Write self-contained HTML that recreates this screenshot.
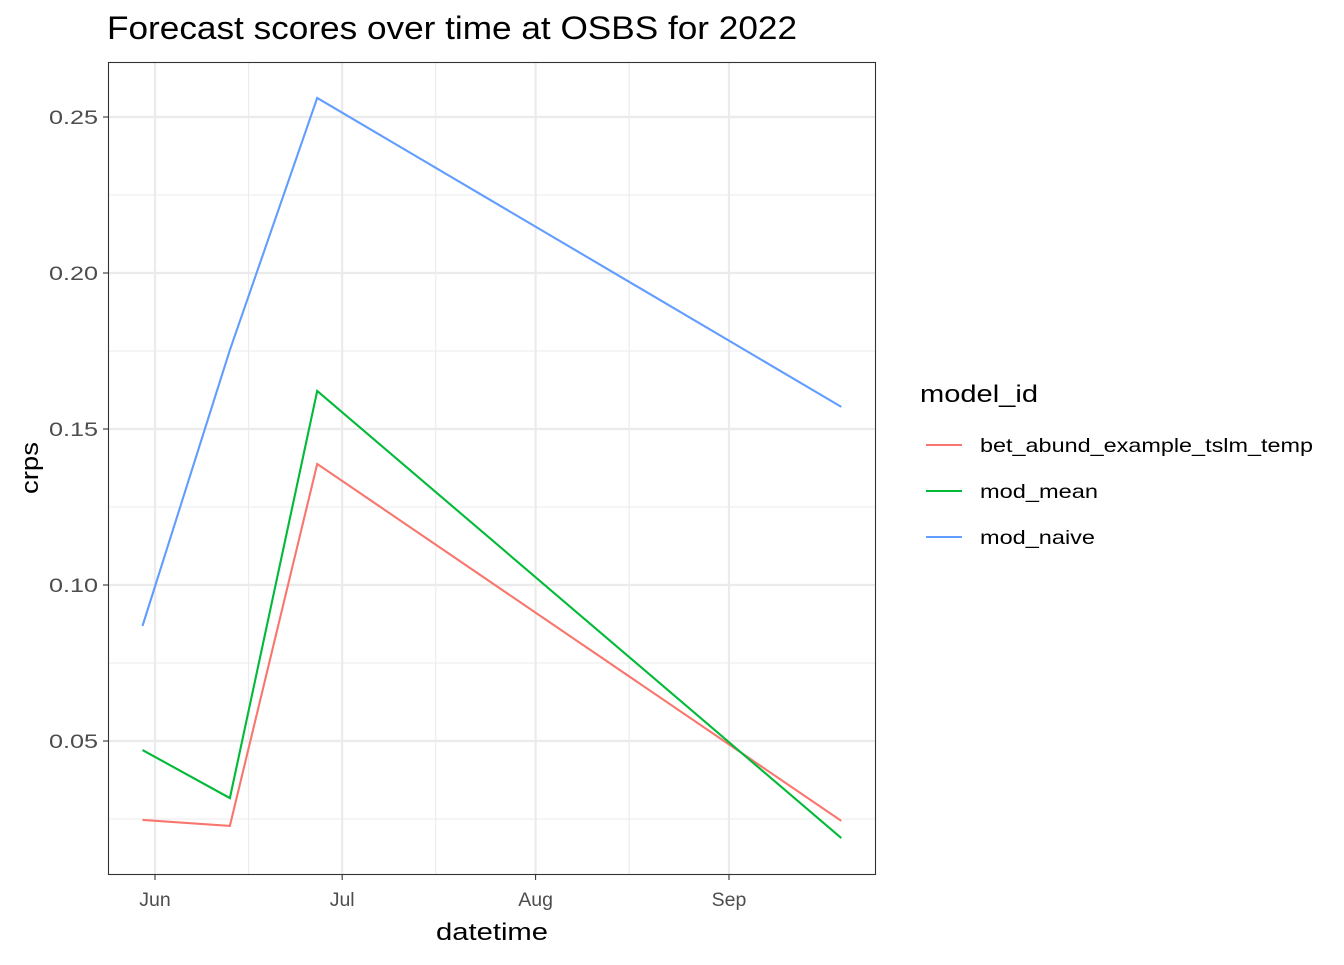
<!DOCTYPE html>
<html><head><meta charset="utf-8"><style>
body{margin:0;background:#fff}
text{font-family:"Liberation Sans",Arial,sans-serif}
</style></head><body>
<svg id="chart" width="1344" height="960" xmlns="http://www.w3.org/2000/svg">
<rect width="1344" height="960" fill="#fff"/>
<text x="107" y="39" font-size="32" textLength="690" lengthAdjust="spacingAndGlyphs" fill="#000">Forecast scores over time at OSBS for 2022</text>
<g id="grid"></g>
<g id="series"></g>
<rect x="108.5" y="62.5" width="767" height="812" fill="none" stroke="#333" stroke-width="1.1"/>
<g id="axes"></g>
<text x="492" y="940" font-size="24" text-anchor="middle" textLength="112" lengthAdjust="spacingAndGlyphs">datetime</text>
<text transform="translate(38,468) rotate(-90)" font-size="24" text-anchor="middle" textLength="52" lengthAdjust="spacingAndGlyphs">crps</text>
<g>
<text x="920" y="402" font-size="24" textLength="118" lengthAdjust="spacingAndGlyphs">model_id</text>
<g id="legend"></g>
</g>
</svg>
<script>
const seriesNames=["bet_abund_example_tslm_temp","mod_mean","mod_naive"];
const colors=["#F8766D","#00BA38","#619CFF"];
const dates=["2022-05-30","2022-06-13","2022-06-27","2022-09-19"];
const betVals=[0.0247,0.0228,0.1388,0.0244];
const meanVals=[0.0471,0.0317,0.1622,0.0189];
const naiveVals=[0.0869,0.1753,0.2561,0.1571];
const yTicks=[0.05,0.10,0.15,0.20,0.25];
const yMinor=[0.025,0.075,0.125,0.175,0.225];
const xTicks=["2022-06-01","2022-07-01","2022-08-01","2022-09-01"];
const xTickLabels=["Jun","Jul","Aug","Sep"];
const xMinor=["2022-06-16","2022-07-16","2022-08-16"];
const legendWidths=[333,118,115];

const NS="http://www.w3.org/2000/svg";
const day=s=>Date.UTC(+s.slice(0,4),+s.slice(5,7)-1,+s.slice(8,10))/86400000;
const d0=day("2022-06-01");
const xs=s=>155+(day(s)-d0)*6.239;
const ys=v=>741-(v-0.05)*3120;
function mk(tag,attrs,parent){const e=document.createElementNS(NS,tag);for(const k in attrs)e.setAttribute(k,attrs[k]);parent.appendChild(e);return e;}
const grid=document.getElementById('grid'),axes=document.getElementById('axes'),ser=document.getElementById('series'),leg=document.getElementById('legend');
yMinor.forEach(v=>{const l=mk('line',{x1:108.5,x2:875.5,y1:ys(v),y2:ys(v),stroke:'#ebebeb','stroke-width':1.1},grid);

});
xMinor.forEach(d=>{const l=mk('line',{x1:xs(d),x2:xs(d),y1:62.5,y2:874.5,stroke:'#ebebeb','stroke-width':1.1},grid);

});
yTicks.forEach(v=>{const y=ys(v);
const l=mk('line',{x1:108.5,x2:875.5,y1:y,y2:y,stroke:'#ebebeb','stroke-width':2.2},grid);


mk('line',{x1:103,x2:108.5,y1:y,y2:y,stroke:'#333','stroke-width':1.1},axes);
const t=mk('text',{x:98,y:y+7,'font-size':19.5,fill:'#4d4d4d','text-anchor':'end',textLength:49,lengthAdjust:'spacingAndGlyphs'},axes);t.textContent=v.toFixed(2);

});
xTicks.forEach((d,i)=>{const x=xs(d);
const l=mk('line',{x1:x,x2:x,y1:62.5,y2:874.5,stroke:'#ebebeb','stroke-width':2.2},grid);


mk('line',{x1:x,x2:x,y1:874.5,y2:880,stroke:'#333','stroke-width':1.1},axes);
const t=mk('text',{x:x,y:906,'font-size':19.5,fill:'#4d4d4d','text-anchor':'middle'},axes);t.textContent=xTickLabels[i];

});
[betVals,meanVals,naiveVals].forEach((vals,i)=>{
const p=mk('polyline',{points:vals.map((v,j)=>xs(dates[j])+','+ys(v)).join(' '),fill:'none',stroke:colors[i],'stroke-width':2.1},ser);


const y=445+i*46;
const g=mk('g',{},leg);


mk('line',{x1:926,x2:962,y1:y,y2:y,stroke:colors[i],'stroke-width':2.1},g);
const t=mk('text',{x:980,y:y+7,'font-size':19.5,fill:'#000',textLength:legendWidths[i],lengthAdjust:'spacingAndGlyphs'},g);t.textContent=seriesNames[i];
});
</script>
</body></html>
